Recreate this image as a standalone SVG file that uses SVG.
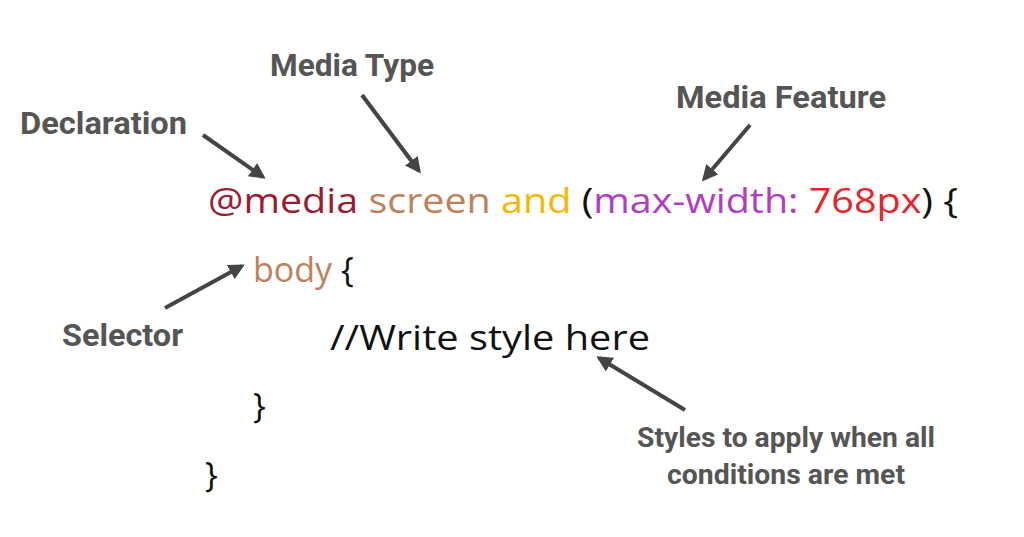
<svg xmlns="http://www.w3.org/2000/svg" width="1024" height="537" viewBox="0 0 1024 537">
<style>
.lbl{font-family:Roboto,"Liberation Sans",sans-serif;font-weight:bold;font-size:32px;fill:#555}
.lbl2{font-family:Roboto,"Liberation Sans",sans-serif;font-weight:bold;font-size:28px;fill:#555}
.code{font-family:"Open Sans","DejaVu Sans",sans-serif;font-size:34px;fill:#111}
.arr{stroke:#444;stroke-width:4;fill:none;marker-end:url(#ah)}
</style>
<defs><marker id="ah" viewBox="0 0 10 10" refX="8" refY="5" markerWidth="4" markerHeight="4" orient="auto"><path d="M0,0L10,5L0,10z" fill="#444"/></marker></defs>
<rect width="1024" height="537" fill="#fff"/>
<g id="code">
<text class="code" x="208" y="213" textLength="750" lengthAdjust="spacingAndGlyphs"><tspan fill="#9b1c31">@media</tspan> <tspan fill="#c0815a">screen</tspan> <tspan fill="#f5b800">and</tspan> (<tspan fill="#b03ec4">max-width:</tspan> <tspan fill="#e8232a">768px</tspan>) {</text>
<text class="code" x="253" y="282"><tspan fill="#c0815a">body</tspan> {</text>
<text class="code" x="330" y="350" fill="#e8232a" textLength="320" lengthAdjust="spacingAndGlyphs">//Write style here</text>
<text class="code" x="253" y="418">}</text>
<text class="code" x="205" y="487">}</text>
</g>
<g id="declaration"><text class="lbl" x="20" y="134" textLength="167" lengthAdjust="spacingAndGlyphs">Declaration</text></g>
<g id="mediatype"><text class="lbl" x="270" y="76" textLength="164" lengthAdjust="spacingAndGlyphs">Media Type</text></g>
<g id="mediafeature"><text class="lbl" x="676" y="108" textLength="210" lengthAdjust="spacingAndGlyphs">Media Feature</text></g>
<g id="selector"><text class="lbl" x="62" y="346" textLength="121" lengthAdjust="spacingAndGlyphs">Selector</text></g>
<g id="styles">
<text class="lbl2" x="637" y="447" textLength="298" lengthAdjust="spacingAndGlyphs">Styles to apply when all</text>
<text class="lbl2" x="667" y="484" textLength="238" lengthAdjust="spacingAndGlyphs">conditions are met</text>
</g>
<g id="connectors">
<line class="arr" x1="203" y1="135" x2="263" y2="177"/>
<line class="arr" x1="362" y1="95" x2="419" y2="171"/>
<line class="arr" x1="750" y1="125" x2="704" y2="179"/>
<line class="arr" x1="165" y1="308" x2="242" y2="266"/>
<line class="arr" x1="685" y1="410" x2="599" y2="358"/>
</g>
</svg>
